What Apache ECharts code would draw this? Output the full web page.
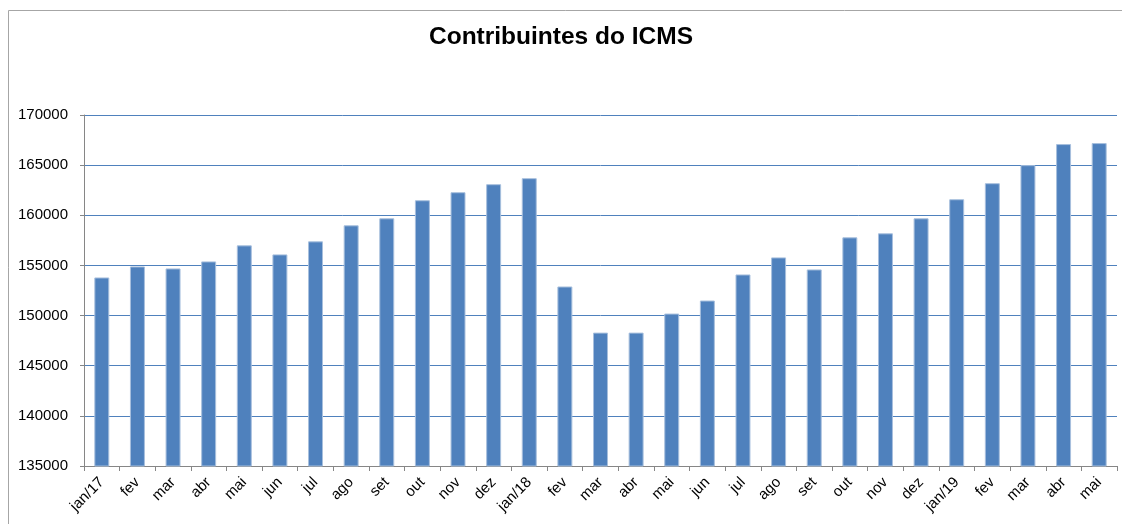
<!DOCTYPE html>
<html>
<head>
<meta charset="utf-8">
<script src="https://cdn.jsdelivr.net/npm/echarts@6/dist/echarts.min.js"></script>
<style>html,body{margin:0;padding:0;background:#fff}#c{width:1122px;height:524px}</style>
</head>
<body>
<div id="c"></div>
<script>
const titleText = 'Contribuintes do ICMS';
const categories = ['jan/17','fev','mar','abr','mai','jun','jul','ago','set','out','nov','dez',
  'jan/18','fev','mar','abr','mai','jun','jul','ago','set','out','nov','dez',
  'jan/19','fev','mar','abr','mai'];
const contribuintes = [153800,154900,154700,155400,157000,156100,157400,159000,159700,161500,162300,163100,
  163700,152900,148300,148300,150200,151500,154100,155800,154600,157800,158200,159700,
  161600,163200,165000,167100,167200];
const yMin = 135000, yMax = 170000, yStep = 5000;

const chart = echarts.init(document.getElementById('c'), null, {renderer:'canvas'});
chart.setOption({
  animation: false,
  backgroundColor: '#fff',
  title: {
    text: titleText, left: 'center', top: 20,
    textStyle: {fontFamily: 'Liberation Sans', fontWeight: 'bold', fontSize: 24.5, color: '#000'}
  },
  graphic: [{
    type: 'rect', silent: true,
    shape: {x: 8.5, y: 10.5, width: 1125, height: 530},
    style: {fill: 'none', stroke: '#a6a6a6', lineWidth: 1}
  }],
  grid: {left: 84, right: 5, top: 115, bottom: 58, containLabel: false},
  xAxis: {
    type: 'category', data: categories,
    axisLine: {lineStyle: {color: '#868686', width: 1}},
    axisTick: {show: true, alignWithLabel: false, length: 5, lineStyle: {color: '#868686'}},
    axisLabel: {interval: 0, rotate: 45, margin: 14, fontFamily: 'Liberation Sans', fontSize: 15, color: '#000'},
    splitLine: {show: false}
  },
  yAxis: {
    type: 'value', min: yMin, max: yMax, interval: yStep,
    axisLine: {show: true, lineStyle: {color: '#868686', width: 1}},
    axisTick: {show: true, length: 4, lineStyle: {color: '#868686'}},
    axisLabel: {margin: 16, fontFamily: 'Liberation Sans', fontSize: 15, color: '#000',
      formatter: function (v) { return String(v); }},
    splitLine: {show: true, lineStyle: {color: '#4F81BD', width: 1}}
  },
  series: [{
    type: 'bar', data: contribuintes, barWidth: '42%',
    itemStyle: {color: '#4F81BD', borderColor: '#a7bfdd', borderWidth: 1}
  }]
});
</script>
</body>
</html>
